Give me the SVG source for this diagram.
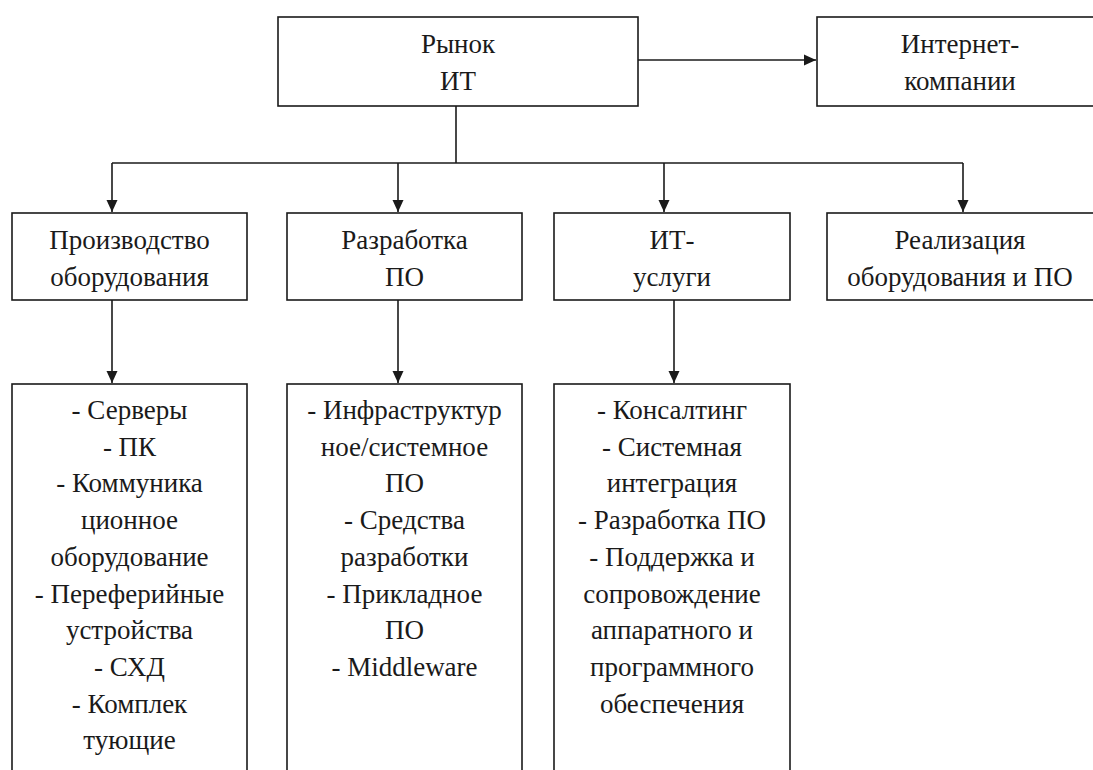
<svg xmlns="http://www.w3.org/2000/svg" width="1093" height="770" viewBox="0 0 1093 770">
<defs>
<marker id="ah" viewBox="0 0 12 12" refX="12" refY="6" markerWidth="12" markerHeight="12" orient="auto" markerUnits="userSpaceOnUse">
<path d="M0,0.5 L12,6 L0,11.5 z" fill="#1a1a1a"/>
</marker>
</defs>
<rect width="1093" height="770" fill="#fff"/>
<g id="connectors" fill="none" stroke="#1a1a1a" stroke-width="1.6">
<path d="M638,60 H816" marker-end="url(#ah)"/>
<path d="M456,106 V163"/>
<path d="M112,163 H963"/>
<path d="M112,163 V212" marker-end="url(#ah)"/>
<path d="M398,163 V212" marker-end="url(#ah)"/>
<path d="M664,163 V212" marker-end="url(#ah)"/>
<path d="M963,163 V212" marker-end="url(#ah)"/>
<path d="M112,300 V383" marker-end="url(#ah)"/>
<path d="M398,300 V383" marker-end="url(#ah)"/>
<path d="M674,300 V383" marker-end="url(#ah)"/>
</g>
<g id="rynok">
<rect x="278" y="17" width="360" height="89" fill="#fff" stroke="#1a1a1a" stroke-width="1.6"/>
<text x="458" y="53" font-size="27" style="font-family:'Times New Roman','Liberation Serif',serif;text-anchor:middle;fill:#1a1a1a">Рынок</text>
<text x="458" y="90" font-size="27" style="font-family:'Times New Roman','Liberation Serif',serif;text-anchor:middle;fill:#1a1a1a">ИТ</text>
</g>
<g id="internet">
<rect x="817" y="17" width="290" height="89" fill="#fff" stroke="#1a1a1a" stroke-width="1.6"/>
<text x="960" y="53" font-size="27" style="font-family:'Times New Roman','Liberation Serif',serif;text-anchor:middle;fill:#1a1a1a">Интернет-</text>
<text x="960" y="90" font-size="27" style="font-family:'Times New Roman','Liberation Serif',serif;text-anchor:middle;fill:#1a1a1a">компании</text>
</g>
<g id="proizv">
<rect x="12" y="213" width="235" height="87" fill="#fff" stroke="#1a1a1a" stroke-width="1.6"/>
<text x="129.5" y="249" font-size="27" style="font-family:'Times New Roman','Liberation Serif',serif;text-anchor:middle;fill:#1a1a1a">Производство</text>
<text x="129.5" y="286" font-size="27" style="font-family:'Times New Roman','Liberation Serif',serif;text-anchor:middle;fill:#1a1a1a">оборудования</text>
</g>
<g id="razrab">
<rect x="287" y="213" width="235" height="87" fill="#fff" stroke="#1a1a1a" stroke-width="1.6"/>
<text x="404.5" y="249" font-size="27" style="font-family:'Times New Roman','Liberation Serif',serif;text-anchor:middle;fill:#1a1a1a">Разработка</text>
<text x="404.5" y="286" font-size="27" style="font-family:'Times New Roman','Liberation Serif',serif;text-anchor:middle;fill:#1a1a1a">ПО</text>
</g>
<g id="itusl">
<rect x="554" y="213" width="236" height="87" fill="#fff" stroke="#1a1a1a" stroke-width="1.6"/>
<text x="672" y="249" font-size="27" style="font-family:'Times New Roman','Liberation Serif',serif;text-anchor:middle;fill:#1a1a1a">ИТ-</text>
<text x="672" y="286" font-size="27" style="font-family:'Times New Roman','Liberation Serif',serif;text-anchor:middle;fill:#1a1a1a">услуги</text>
</g>
<g id="realiz">
<rect x="827" y="213" width="280" height="87" fill="#fff" stroke="#1a1a1a" stroke-width="1.6"/>
<text x="960" y="249" font-size="27" style="font-family:'Times New Roman','Liberation Serif',serif;text-anchor:middle;fill:#1a1a1a">Реализация</text>
<text x="960" y="286" font-size="27" style="font-family:'Times New Roman','Liberation Serif',serif;text-anchor:middle;fill:#1a1a1a">оборудования и ПО</text>
</g>
<g id="list1">
<rect x="12" y="384" width="235" height="400" fill="#fff" stroke="#1a1a1a" stroke-width="1.6"/>
<text x="129.5" y="419" font-size="27" style="font-family:'Times New Roman','Liberation Serif',serif;text-anchor:middle;fill:#1a1a1a">- Серверы</text>
<text x="129.5" y="455.7" font-size="27" style="font-family:'Times New Roman','Liberation Serif',serif;text-anchor:middle;fill:#1a1a1a">- ПК</text>
<text x="129.5" y="492.4" font-size="27" style="font-family:'Times New Roman','Liberation Serif',serif;text-anchor:middle;fill:#1a1a1a">- Коммуника</text>
<text x="129.5" y="529.1" font-size="27" style="font-family:'Times New Roman','Liberation Serif',serif;text-anchor:middle;fill:#1a1a1a">ционное</text>
<text x="129.5" y="565.8" font-size="27" style="font-family:'Times New Roman','Liberation Serif',serif;text-anchor:middle;fill:#1a1a1a">оборудование</text>
<text x="129.5" y="602.5" font-size="27" style="font-family:'Times New Roman','Liberation Serif',serif;text-anchor:middle;fill:#1a1a1a">- Переферийные</text>
<text x="129.5" y="639.2" font-size="27" style="font-family:'Times New Roman','Liberation Serif',serif;text-anchor:middle;fill:#1a1a1a">устройства</text>
<text x="129.5" y="675.9" font-size="27" style="font-family:'Times New Roman','Liberation Serif',serif;text-anchor:middle;fill:#1a1a1a">- СХД</text>
<text x="129.5" y="712.6" font-size="27" style="font-family:'Times New Roman','Liberation Serif',serif;text-anchor:middle;fill:#1a1a1a">- Комплек</text>
<text x="129.5" y="749.3" font-size="27" style="font-family:'Times New Roman','Liberation Serif',serif;text-anchor:middle;fill:#1a1a1a">тующие</text>
</g>
<g id="list2">
<rect x="287" y="384" width="235" height="400" fill="#fff" stroke="#1a1a1a" stroke-width="1.6"/>
<text x="404.5" y="419" font-size="27" style="font-family:'Times New Roman','Liberation Serif',serif;text-anchor:middle;fill:#1a1a1a">- Инфраструктур</text>
<text x="404.5" y="455.7" font-size="27" style="font-family:'Times New Roman','Liberation Serif',serif;text-anchor:middle;fill:#1a1a1a">ное/системное</text>
<text x="404.5" y="492.4" font-size="27" style="font-family:'Times New Roman','Liberation Serif',serif;text-anchor:middle;fill:#1a1a1a">ПО</text>
<text x="404.5" y="529.1" font-size="27" style="font-family:'Times New Roman','Liberation Serif',serif;text-anchor:middle;fill:#1a1a1a">- Средства</text>
<text x="404.5" y="565.8" font-size="27" style="font-family:'Times New Roman','Liberation Serif',serif;text-anchor:middle;fill:#1a1a1a">разработки</text>
<text x="404.5" y="602.5" font-size="27" style="font-family:'Times New Roman','Liberation Serif',serif;text-anchor:middle;fill:#1a1a1a">- Прикладное</text>
<text x="404.5" y="639.2" font-size="27" style="font-family:'Times New Roman','Liberation Serif',serif;text-anchor:middle;fill:#1a1a1a">ПО</text>
<text x="404.5" y="675.9" font-size="27" style="font-family:'Times New Roman','Liberation Serif',serif;text-anchor:middle;fill:#1a1a1a">- Middleware</text>
</g>
<g id="list3">
<rect x="554" y="384" width="236" height="400" fill="#fff" stroke="#1a1a1a" stroke-width="1.6"/>
<text x="672" y="419" font-size="27" style="font-family:'Times New Roman','Liberation Serif',serif;text-anchor:middle;fill:#1a1a1a">- Консалтинг</text>
<text x="672" y="455.7" font-size="27" style="font-family:'Times New Roman','Liberation Serif',serif;text-anchor:middle;fill:#1a1a1a">- Системная</text>
<text x="672" y="492.4" font-size="27" style="font-family:'Times New Roman','Liberation Serif',serif;text-anchor:middle;fill:#1a1a1a">интеграция</text>
<text x="672" y="529.1" font-size="27" style="font-family:'Times New Roman','Liberation Serif',serif;text-anchor:middle;fill:#1a1a1a">- Разработка ПО</text>
<text x="672" y="565.8" font-size="27" style="font-family:'Times New Roman','Liberation Serif',serif;text-anchor:middle;fill:#1a1a1a">- Поддержка и</text>
<text x="672" y="602.5" font-size="27" style="font-family:'Times New Roman','Liberation Serif',serif;text-anchor:middle;fill:#1a1a1a">сопровождение</text>
<text x="672" y="639.2" font-size="27" style="font-family:'Times New Roman','Liberation Serif',serif;text-anchor:middle;fill:#1a1a1a">аппаратного и</text>
<text x="672" y="675.9" font-size="27" style="font-family:'Times New Roman','Liberation Serif',serif;text-anchor:middle;fill:#1a1a1a">программного</text>
<text x="672" y="712.6" font-size="27" style="font-family:'Times New Roman','Liberation Serif',serif;text-anchor:middle;fill:#1a1a1a">обеспечения</text>
</g>
</svg>
